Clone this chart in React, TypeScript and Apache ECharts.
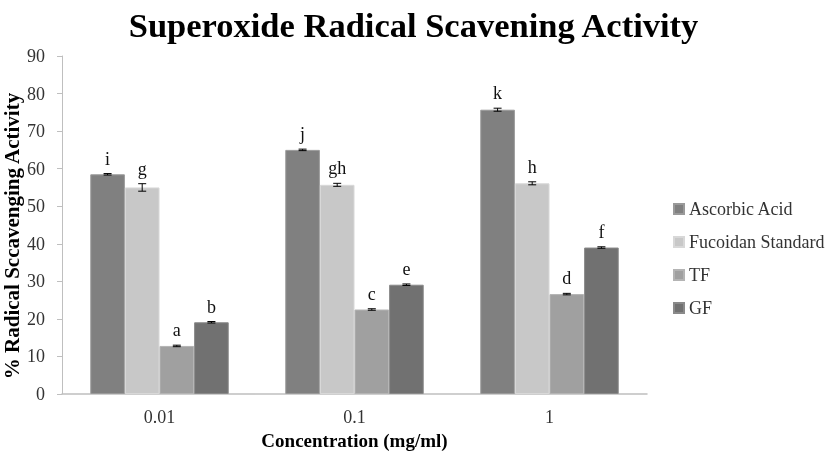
import React, { useEffect, useRef } from "react";
import * as echarts from "echarts";

const categories = ["0.01", "0.1", "1"];
const seriesNames = ["Ascorbic Acid", "Fucoidan Standard", "TF", "GF"];
const ascorbic = [58.5, 65.0, 75.7];
const fucoidan = [55.0, 55.7, 56.1];
const tf = [12.8, 22.5, 26.6];
const gf = [19.1, 29.1, 39.0];
const ascorbicErr = [0.2, 0.2, 0.4];
const fucoidanErr = [1.0, 0.4, 0.4];
const tfErr = [0.2, 0.2, 0.2];
const gfErr = [0.2, 0.2, 0.2];
const ascorbicLetters = ["i", "j", "k"];
const fucoidanLetters = ["g", "gh", "h"];
const tfLetters = ["a", "c", "d"];
const gfLetters = ["b", "e", "f"];
const colors = ["#808080", "#c8c8c8", "#a0a0a0", "#717171"];
const borders = ["#9a9a9a", "#d8d8d8", "#b4b4b4", "#8a8a8a"];

const FONT = "'Liberation Serif', 'Times New Roman', serif";
const CAT_GAP = 0.29;

export default function App() {
  const ref = useRef<HTMLDivElement>(null);
  useEffect(() => {
    if (!ref.current) return;
    const chart = echarts.init(ref.current, null, { renderer: "svg" });
    const values = [ascorbic, fucoidan, tf, gf];
    const errs = [ascorbicErr, fucoidanErr, tfErr, gfErr];
    const letters = [ascorbicLetters, fucoidanLetters, tfLetters, gfLetters];
    const errData: any[] = [];
    values.forEach((arr, s) =>
      arr.forEach((v, c) => errData.push([c, s, v, errs[s][c], letters[s][c]]))
    );
    const barSeries = values.map((arr, s) => ({
      name: seriesNames[s],
      type: "bar",
      data: arr,
      barGap: "0%",
      barCategoryGap: CAT_GAP * 100 + "%",
      itemStyle: { color: colors[s], borderColor: borders[s], borderWidth: 1 },
    }));
    chart.setOption({
      animation: false,
      color: colors,
      textStyle: { fontFamily: FONT },
      title: {
        text: "Superoxide Radical Scavening Activity",
        left: "center",
        top: 2,
        textStyle: { fontFamily: FONT, fontSize: 34.5, fontWeight: "bold", color: "#000" },
      },
      grid: {
        left: 62,
        top: 56,
        right: 180,
        bottom: 61,
        containLabel: false,
        outerBoundsMode: "none",
      },
      legend: {
        orient: "vertical",
        left: 668,
        top: 195,
        itemWidth: 10,
        itemHeight: 10,
        itemGap: 15,
        icon: "rect",
        data: seriesNames,
        textStyle: { fontFamily: FONT, fontSize: 18, color: "#333" },
      },
      xAxis: {
        type: "category",
        data: categories,
        name: "Concentration (mg/ml)",
        nameLocation: "middle",
        nameGap: 37,
        nameMoveOverlap: false,
        nameTextStyle: { fontFamily: FONT, fontSize: 19, fontWeight: "bold", color: "#000" },
        axisLine: { lineStyle: { color: "#bfbfbf", width: 1.5 } },
        axisTick: { show: false },
        axisLabel: { fontFamily: FONT, fontSize: 18, color: "#333", margin: 14 },
      },
      yAxis: {
        type: "value",
        min: 0,
        max: 90,
        interval: 10,
        name: "% Radical Sccavenging Activity",
        nameLocation: "middle",
        nameGap: 40,
        nameMoveOverlap: false,
        nameTextStyle: {
          fontFamily: FONT,
          fontSize: 21,
          fontWeight: "bold",
          color: "#000",
          padding: [0, 22, 0, 0],
        },
        axisLine: { show: true, lineStyle: { color: "#bfbfbf" } },
        axisTick: { show: true, length: 5, lineStyle: { color: "#bfbfbf" } },
        axisLabel: { fontFamily: FONT, fontSize: 18, color: "#333", margin: 17 },
        splitLine: { show: false },
      },
      series: [
        ...barSeries,
        {
          type: "custom",
          name: "err",
          data: errData,
          encode: { x: 0, y: 2 },
          z: 10,
          silent: true,
          renderItem: (params: any, api: any) => {
            const c = api.value(0);
            const s = api.value(1);
            const v = api.value(2);
            const e = api.value(3);
            const letter = errData[params.dataIndex][4];
            const band = api.size([1, 0])[0];
            const barW = (band * (1 - CAT_GAP)) / 4;
            const cx = api.coord([c, 0])[0] + (s - 1.5) * barW;
            const top = api.coord([c, v + e])[1];
            const bot = api.coord([c, v - e])[1];
            const hw = 4;
            const st = { stroke: "#000", lineWidth: 1 };
            return {
              type: "group",
              children: [
                { type: "line", shape: { x1: cx, y1: top, x2: cx, y2: bot }, style: st },
                { type: "line", shape: { x1: cx - hw, y1: top, x2: cx + hw, y2: top }, style: st },
                { type: "line", shape: { x1: cx - hw, y1: bot, x2: cx + hw, y2: bot }, style: st },
                {
                  type: "text",
                  x: cx,
                  y: top - 6,
                  style: {
                    text: letter,
                    fontFamily: FONT,
                    fontSize: 18,
                    fill: "#111",
                    align: "center",
                    verticalAlign: "bottom",
                  },
                },
              ],
            };
          },
        },
      ],
    });
    return () => chart.dispose();
  }, []);
  return (
    <div
      ref={ref}
      style={{ position: "fixed", left: 0, top: 0, width: 827, height: 455 }}
    />
  );
}
